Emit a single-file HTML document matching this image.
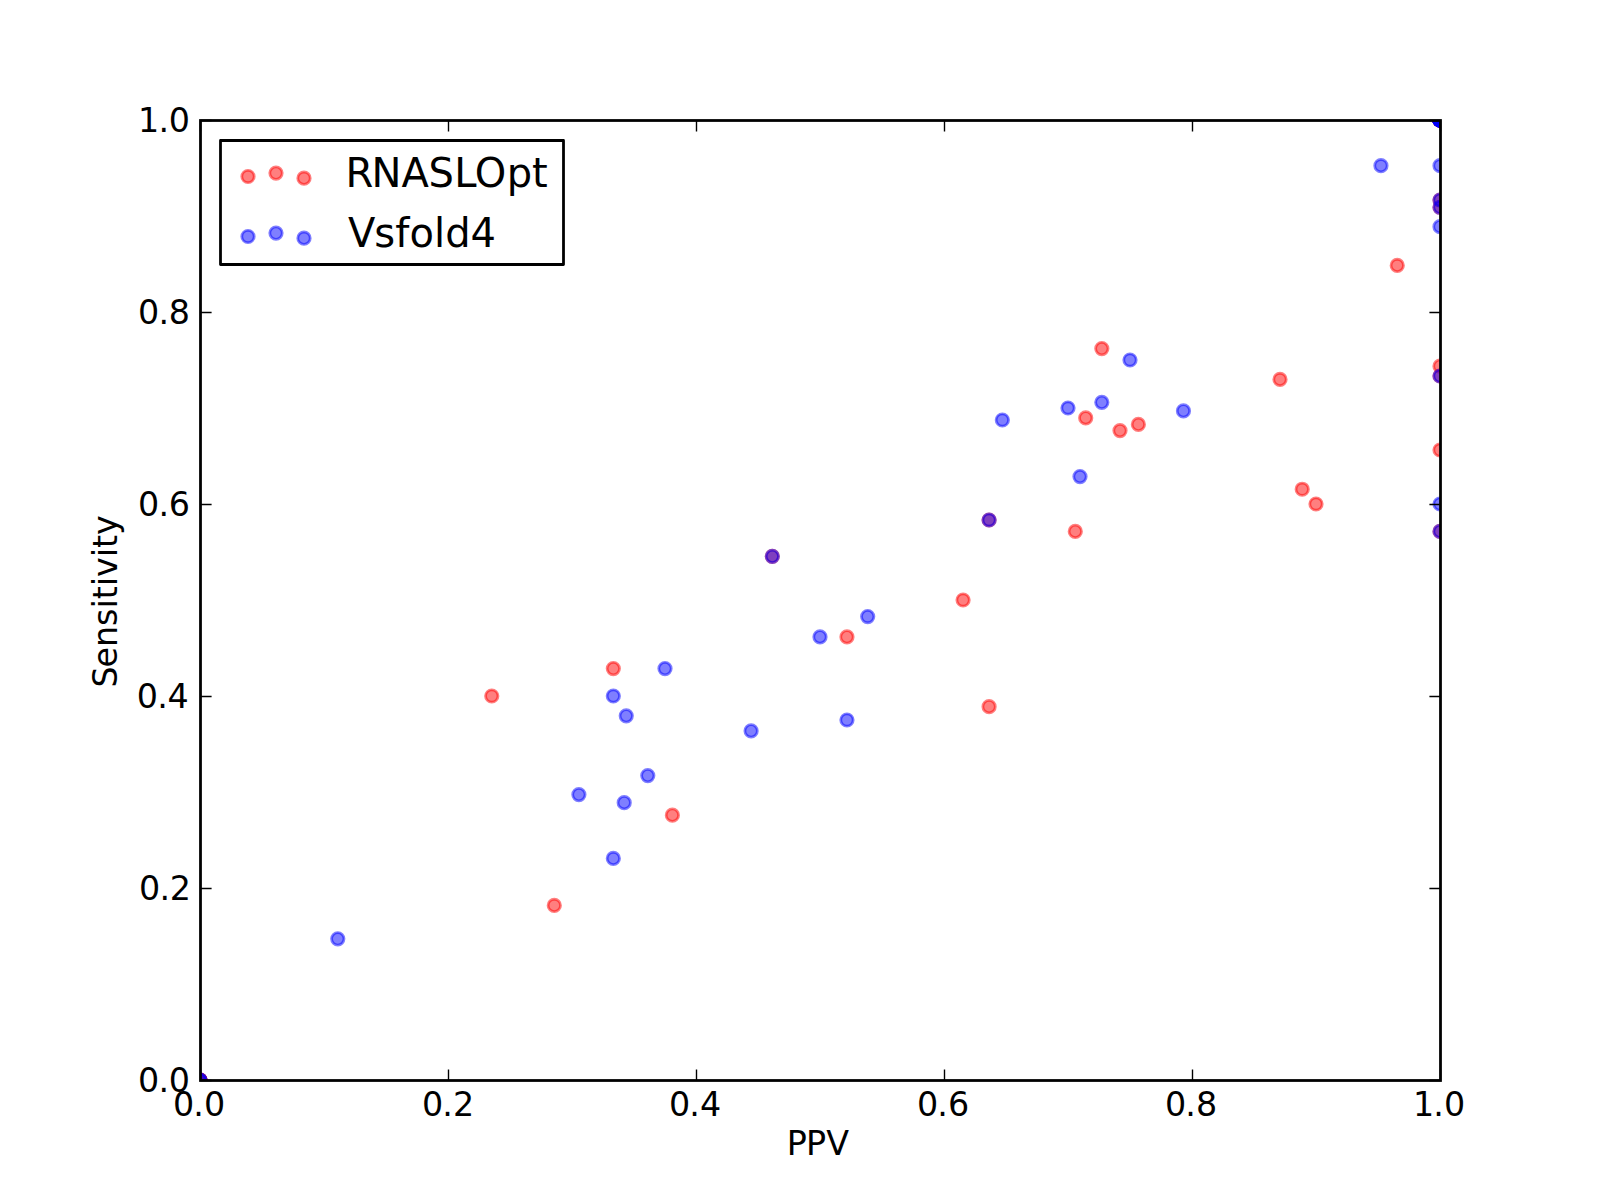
<!DOCTYPE html>
<html><head><meta charset="utf-8"><title>PPV vs Sensitivity</title>
<style>
html,body{margin:0;padding:0;background:#fff;}
body{width:1600px;height:1200px;overflow:hidden;}
svg{display:block;}
text{font-family:"DejaVu Sans","Liberation Sans",sans-serif;fill:#000;}
.tk{font-size:33.33px;}
.lg{font-size:40px;}
</style></head><body>
<svg width="1600" height="1200" viewBox="0 0 1600 1200">
<rect x="0" y="0" width="1600" height="1200" fill="#fff"/>
<defs><clipPath id="ax"><rect x="200" y="120" width="1240" height="960"/></clipPath></defs>
<g clip-path="url(#ax)">
<circle cx="491.76" cy="696.00" r="6.21" fill="#ff0000" fill-opacity="0.5" stroke="#ff0000" stroke-opacity="0.5" stroke-width="2.78"/>
<circle cx="554.29" cy="905.45" r="6.21" fill="#ff0000" fill-opacity="0.5" stroke="#ff0000" stroke-opacity="0.5" stroke-width="2.78"/>
<circle cx="613.33" cy="668.57" r="6.21" fill="#ff0000" fill-opacity="0.5" stroke="#ff0000" stroke-opacity="0.5" stroke-width="2.78"/>
<circle cx="672.38" cy="815.17" r="6.21" fill="#ff0000" fill-opacity="0.5" stroke="#ff0000" stroke-opacity="0.5" stroke-width="2.78"/>
<circle cx="846.96" cy="636.92" r="6.21" fill="#ff0000" fill-opacity="0.5" stroke="#ff0000" stroke-opacity="0.5" stroke-width="2.78"/>
<circle cx="963.08" cy="600.00" r="6.21" fill="#ff0000" fill-opacity="0.5" stroke="#ff0000" stroke-opacity="0.5" stroke-width="2.78"/>
<circle cx="989.09" cy="706.67" r="6.21" fill="#ff0000" fill-opacity="0.5" stroke="#ff0000" stroke-opacity="0.5" stroke-width="2.78"/>
<circle cx="772.31" cy="556.36" r="6.21" fill="#ff0000" fill-opacity="0.5" stroke="#ff0000" stroke-opacity="0.5" stroke-width="2.78"/>
<circle cx="989.09" cy="520.00" r="6.21" fill="#ff0000" fill-opacity="0.5" stroke="#ff0000" stroke-opacity="0.5" stroke-width="2.78"/>
<circle cx="1075.29" cy="531.43" r="6.21" fill="#ff0000" fill-opacity="0.5" stroke="#ff0000" stroke-opacity="0.5" stroke-width="2.78"/>
<circle cx="1085.71" cy="417.93" r="6.21" fill="#ff0000" fill-opacity="0.5" stroke="#ff0000" stroke-opacity="0.5" stroke-width="2.78"/>
<circle cx="1101.82" cy="348.57" r="6.21" fill="#ff0000" fill-opacity="0.5" stroke="#ff0000" stroke-opacity="0.5" stroke-width="2.78"/>
<circle cx="1120.00" cy="430.59" r="6.21" fill="#ff0000" fill-opacity="0.5" stroke="#ff0000" stroke-opacity="0.5" stroke-width="2.78"/>
<circle cx="1138.38" cy="424.39" r="6.21" fill="#ff0000" fill-opacity="0.5" stroke="#ff0000" stroke-opacity="0.5" stroke-width="2.78"/>
<circle cx="1280.00" cy="379.46" r="6.21" fill="#ff0000" fill-opacity="0.5" stroke="#ff0000" stroke-opacity="0.5" stroke-width="2.78"/>
<circle cx="1302.22" cy="489.23" r="6.21" fill="#ff0000" fill-opacity="0.5" stroke="#ff0000" stroke-opacity="0.5" stroke-width="2.78"/>
<circle cx="1316.00" cy="504.00" r="6.21" fill="#ff0000" fill-opacity="0.5" stroke="#ff0000" stroke-opacity="0.5" stroke-width="2.78"/>
<circle cx="1397.24" cy="265.45" r="6.21" fill="#ff0000" fill-opacity="0.5" stroke="#ff0000" stroke-opacity="0.5" stroke-width="2.78"/>
<circle cx="1440.00" cy="366.15" r="6.21" fill="#ff0000" fill-opacity="0.5" stroke="#ff0000" stroke-opacity="0.5" stroke-width="2.78"/>
<circle cx="1440.00" cy="376.00" r="6.21" fill="#ff0000" fill-opacity="0.5" stroke="#ff0000" stroke-opacity="0.5" stroke-width="2.78"/>
<circle cx="1440.00" cy="450.00" r="6.21" fill="#ff0000" fill-opacity="0.5" stroke="#ff0000" stroke-opacity="0.5" stroke-width="2.78"/>
<circle cx="1440.00" cy="531.43" r="6.21" fill="#ff0000" fill-opacity="0.5" stroke="#ff0000" stroke-opacity="0.5" stroke-width="2.78"/>
<circle cx="1440.00" cy="200.00" r="6.21" fill="#ff0000" fill-opacity="0.5" stroke="#ff0000" stroke-opacity="0.5" stroke-width="2.78"/>
<circle cx="1440.00" cy="207.27" r="6.21" fill="#ff0000" fill-opacity="0.5" stroke="#ff0000" stroke-opacity="0.5" stroke-width="2.78"/>
<circle cx="1440.00" cy="120.00" r="6.21" fill="#ff0000" fill-opacity="0.5" stroke="#ff0000" stroke-opacity="0.5" stroke-width="2.78"/>
<circle cx="1440.00" cy="120.00" r="6.21" fill="#ff0000" fill-opacity="0.5" stroke="#ff0000" stroke-opacity="0.5" stroke-width="2.78"/>
<circle cx="1440.00" cy="120.00" r="6.21" fill="#ff0000" fill-opacity="0.5" stroke="#ff0000" stroke-opacity="0.5" stroke-width="2.78"/>
<circle cx="1440.00" cy="120.00" r="6.21" fill="#ff0000" fill-opacity="0.5" stroke="#ff0000" stroke-opacity="0.5" stroke-width="2.78"/>
<circle cx="1440.00" cy="120.00" r="6.21" fill="#ff0000" fill-opacity="0.5" stroke="#ff0000" stroke-opacity="0.5" stroke-width="2.78"/>
<circle cx="1440.00" cy="120.00" r="6.21" fill="#ff0000" fill-opacity="0.5" stroke="#ff0000" stroke-opacity="0.5" stroke-width="2.78"/>
<circle cx="1440.00" cy="120.00" r="6.21" fill="#ff0000" fill-opacity="0.5" stroke="#ff0000" stroke-opacity="0.5" stroke-width="2.78"/>
<circle cx="1440.00" cy="120.00" r="6.21" fill="#ff0000" fill-opacity="0.5" stroke="#ff0000" stroke-opacity="0.5" stroke-width="2.78"/>
<circle cx="1440.00" cy="120.00" r="6.21" fill="#ff0000" fill-opacity="0.5" stroke="#ff0000" stroke-opacity="0.5" stroke-width="2.78"/>
<circle cx="1440.00" cy="120.00" r="6.21" fill="#ff0000" fill-opacity="0.5" stroke="#ff0000" stroke-opacity="0.5" stroke-width="2.78"/>
<circle cx="1440.00" cy="120.00" r="6.21" fill="#ff0000" fill-opacity="0.5" stroke="#ff0000" stroke-opacity="0.5" stroke-width="2.78"/>
<circle cx="1440.00" cy="120.00" r="6.21" fill="#ff0000" fill-opacity="0.5" stroke="#ff0000" stroke-opacity="0.5" stroke-width="2.78"/>
<circle cx="200.00" cy="1080.00" r="6.21" fill="#ff0000" fill-opacity="0.5" stroke="#ff0000" stroke-opacity="0.5" stroke-width="2.78"/>
<circle cx="200.00" cy="1080.00" r="6.21" fill="#ff0000" fill-opacity="0.5" stroke="#ff0000" stroke-opacity="0.5" stroke-width="2.78"/>
<circle cx="200.00" cy="1080.00" r="6.21" fill="#ff0000" fill-opacity="0.5" stroke="#ff0000" stroke-opacity="0.5" stroke-width="2.78"/>
<circle cx="200.00" cy="1080.00" r="6.21" fill="#ff0000" fill-opacity="0.5" stroke="#ff0000" stroke-opacity="0.5" stroke-width="2.78"/>
<circle cx="337.78" cy="938.82" r="6.21" fill="#0000ff" fill-opacity="0.5" stroke="#0000ff" stroke-opacity="0.5" stroke-width="2.78"/>
<circle cx="578.89" cy="794.59" r="6.21" fill="#0000ff" fill-opacity="0.5" stroke="#0000ff" stroke-opacity="0.5" stroke-width="2.78"/>
<circle cx="613.33" cy="858.46" r="6.21" fill="#0000ff" fill-opacity="0.5" stroke="#0000ff" stroke-opacity="0.5" stroke-width="2.78"/>
<circle cx="624.21" cy="802.67" r="6.21" fill="#0000ff" fill-opacity="0.5" stroke="#0000ff" stroke-opacity="0.5" stroke-width="2.78"/>
<circle cx="626.25" cy="715.86" r="6.21" fill="#0000ff" fill-opacity="0.5" stroke="#0000ff" stroke-opacity="0.5" stroke-width="2.78"/>
<circle cx="613.33" cy="696.00" r="6.21" fill="#0000ff" fill-opacity="0.5" stroke="#0000ff" stroke-opacity="0.5" stroke-width="2.78"/>
<circle cx="647.78" cy="775.61" r="6.21" fill="#0000ff" fill-opacity="0.5" stroke="#0000ff" stroke-opacity="0.5" stroke-width="2.78"/>
<circle cx="665.00" cy="668.57" r="6.21" fill="#0000ff" fill-opacity="0.5" stroke="#0000ff" stroke-opacity="0.5" stroke-width="2.78"/>
<circle cx="751.11" cy="730.91" r="6.21" fill="#0000ff" fill-opacity="0.5" stroke="#0000ff" stroke-opacity="0.5" stroke-width="2.78"/>
<circle cx="772.31" cy="556.36" r="6.21" fill="#0000ff" fill-opacity="0.5" stroke="#0000ff" stroke-opacity="0.5" stroke-width="2.78"/>
<circle cx="820.00" cy="636.92" r="6.21" fill="#0000ff" fill-opacity="0.5" stroke="#0000ff" stroke-opacity="0.5" stroke-width="2.78"/>
<circle cx="846.96" cy="720.00" r="6.21" fill="#0000ff" fill-opacity="0.5" stroke="#0000ff" stroke-opacity="0.5" stroke-width="2.78"/>
<circle cx="867.69" cy="616.55" r="6.21" fill="#0000ff" fill-opacity="0.5" stroke="#0000ff" stroke-opacity="0.5" stroke-width="2.78"/>
<circle cx="989.09" cy="520.00" r="6.21" fill="#0000ff" fill-opacity="0.5" stroke="#0000ff" stroke-opacity="0.5" stroke-width="2.78"/>
<circle cx="1002.35" cy="420.00" r="6.21" fill="#0000ff" fill-opacity="0.5" stroke="#0000ff" stroke-opacity="0.5" stroke-width="2.78"/>
<circle cx="1068.00" cy="408.00" r="6.21" fill="#0000ff" fill-opacity="0.5" stroke="#0000ff" stroke-opacity="0.5" stroke-width="2.78"/>
<circle cx="1080.00" cy="476.57" r="6.21" fill="#0000ff" fill-opacity="0.5" stroke="#0000ff" stroke-opacity="0.5" stroke-width="2.78"/>
<circle cx="1101.82" cy="402.35" r="6.21" fill="#0000ff" fill-opacity="0.5" stroke="#0000ff" stroke-opacity="0.5" stroke-width="2.78"/>
<circle cx="1130.00" cy="360.00" r="6.21" fill="#0000ff" fill-opacity="0.5" stroke="#0000ff" stroke-opacity="0.5" stroke-width="2.78"/>
<circle cx="1183.45" cy="410.91" r="6.21" fill="#0000ff" fill-opacity="0.5" stroke="#0000ff" stroke-opacity="0.5" stroke-width="2.78"/>
<circle cx="1380.95" cy="165.71" r="6.21" fill="#0000ff" fill-opacity="0.5" stroke="#0000ff" stroke-opacity="0.5" stroke-width="2.78"/>
<circle cx="1440.00" cy="165.71" r="6.21" fill="#0000ff" fill-opacity="0.5" stroke="#0000ff" stroke-opacity="0.5" stroke-width="2.78"/>
<circle cx="1440.00" cy="200.00" r="6.21" fill="#0000ff" fill-opacity="0.5" stroke="#0000ff" stroke-opacity="0.5" stroke-width="2.78"/>
<circle cx="1440.00" cy="207.27" r="6.21" fill="#0000ff" fill-opacity="0.5" stroke="#0000ff" stroke-opacity="0.5" stroke-width="2.78"/>
<circle cx="1440.00" cy="226.67" r="6.21" fill="#0000ff" fill-opacity="0.5" stroke="#0000ff" stroke-opacity="0.5" stroke-width="2.78"/>
<circle cx="1440.00" cy="376.00" r="6.21" fill="#0000ff" fill-opacity="0.5" stroke="#0000ff" stroke-opacity="0.5" stroke-width="2.78"/>
<circle cx="1440.00" cy="504.00" r="6.21" fill="#0000ff" fill-opacity="0.5" stroke="#0000ff" stroke-opacity="0.5" stroke-width="2.78"/>
<circle cx="1440.00" cy="531.43" r="6.21" fill="#0000ff" fill-opacity="0.5" stroke="#0000ff" stroke-opacity="0.5" stroke-width="2.78"/>
<circle cx="1440.00" cy="120.00" r="6.21" fill="#0000ff" fill-opacity="0.5" stroke="#0000ff" stroke-opacity="0.5" stroke-width="2.78"/>
<circle cx="1440.00" cy="120.00" r="6.21" fill="#0000ff" fill-opacity="0.5" stroke="#0000ff" stroke-opacity="0.5" stroke-width="2.78"/>
<circle cx="1440.00" cy="120.00" r="6.21" fill="#0000ff" fill-opacity="0.5" stroke="#0000ff" stroke-opacity="0.5" stroke-width="2.78"/>
<circle cx="1440.00" cy="120.00" r="6.21" fill="#0000ff" fill-opacity="0.5" stroke="#0000ff" stroke-opacity="0.5" stroke-width="2.78"/>
<circle cx="1440.00" cy="120.00" r="6.21" fill="#0000ff" fill-opacity="0.5" stroke="#0000ff" stroke-opacity="0.5" stroke-width="2.78"/>
<circle cx="1440.00" cy="120.00" r="6.21" fill="#0000ff" fill-opacity="0.5" stroke="#0000ff" stroke-opacity="0.5" stroke-width="2.78"/>
<circle cx="1440.00" cy="120.00" r="6.21" fill="#0000ff" fill-opacity="0.5" stroke="#0000ff" stroke-opacity="0.5" stroke-width="2.78"/>
<circle cx="1440.00" cy="120.00" r="6.21" fill="#0000ff" fill-opacity="0.5" stroke="#0000ff" stroke-opacity="0.5" stroke-width="2.78"/>
<circle cx="1440.00" cy="120.00" r="6.21" fill="#0000ff" fill-opacity="0.5" stroke="#0000ff" stroke-opacity="0.5" stroke-width="2.78"/>
<circle cx="1440.00" cy="120.00" r="6.21" fill="#0000ff" fill-opacity="0.5" stroke="#0000ff" stroke-opacity="0.5" stroke-width="2.78"/>
<circle cx="1440.00" cy="120.00" r="6.21" fill="#0000ff" fill-opacity="0.5" stroke="#0000ff" stroke-opacity="0.5" stroke-width="2.78"/>
<circle cx="1440.00" cy="120.00" r="6.21" fill="#0000ff" fill-opacity="0.5" stroke="#0000ff" stroke-opacity="0.5" stroke-width="2.78"/>
<circle cx="1440.00" cy="120.00" r="6.21" fill="#0000ff" fill-opacity="0.5" stroke="#0000ff" stroke-opacity="0.5" stroke-width="2.78"/>
<circle cx="1440.00" cy="120.00" r="6.21" fill="#0000ff" fill-opacity="0.5" stroke="#0000ff" stroke-opacity="0.5" stroke-width="2.78"/>
<circle cx="200.00" cy="1080.00" r="6.21" fill="#0000ff" fill-opacity="0.5" stroke="#0000ff" stroke-opacity="0.5" stroke-width="2.78"/>
<circle cx="200.00" cy="1080.00" r="6.21" fill="#0000ff" fill-opacity="0.5" stroke="#0000ff" stroke-opacity="0.5" stroke-width="2.78"/>
</g>
<g stroke="#000" stroke-width="1.39" fill="none">
<path d="M200.5 1080.5 V1069.4 M200.5 120.5 V131.6 M200.5 1080.5 H211.6 M1440.5 1080.5 H1429.4"/>
<path d="M448.5 1080.5 V1069.4 M448.5 120.5 V131.6 M200.5 888.5 H211.6 M1440.5 888.5 H1429.4"/>
<path d="M696.5 1080.5 V1069.4 M696.5 120.5 V131.6 M200.5 696.5 H211.6 M1440.5 696.5 H1429.4"/>
<path d="M944.5 1080.5 V1069.4 M944.5 120.5 V131.6 M200.5 504.5 H211.6 M1440.5 504.5 H1429.4"/>
<path d="M1192.5 1080.5 V1069.4 M1192.5 120.5 V131.6 M200.5 312.5 H211.6 M1440.5 312.5 H1429.4"/>
<path d="M1440.5 1080.5 V1069.4 M1440.5 120.5 V131.6 M200.5 120.5 H211.6 M1440.5 120.5 H1429.4"/>
</g>
<rect x="200.5" y="120.5" width="1240" height="960" fill="none" stroke="#000" stroke-width="2.78"/>
<text class="tk" x="173.1 193.3 204.1" y="1115.5">0.0</text>
<text class="tk" x="138.0 158.5 168.8" y="1092.2">0.0</text>
<text class="tk" x="422.1 442.3 453.1" y="1115.5">0.2</text>
<text class="tk" x="139.0 159.5 169.8" y="900.2">0.2</text>
<text class="tk" x="669.1 689.3 700.1" y="1115.5">0.4</text>
<text class="tk" x="136.8 157.3 167.6" y="708.2">0.4</text>
<text class="tk" x="917.1 937.3 948.1" y="1115.5">0.6</text>
<text class="tk" x="138.0 158.5 168.8" y="516.2">0.6</text>
<text class="tk" x="1165.1 1185.3 1196.1" y="1115.5">0.8</text>
<text class="tk" x="138.0 158.5 168.8" y="324.2">0.8</text>
<text class="tk" x="1413.1 1433.3 1444.1" y="1115.5">1.0</text>
<text class="tk" x="138.0 158.5 168.8" y="132.2">1.0</text>
<text class="tk" x="786.75 805.95 826.3" y="1155">PPV</text>
<text class="tk" transform="translate(117.1 602.2) rotate(-90)" text-anchor="middle" dx="0.8 -1.1">Sensitivity</text>
<rect x="220.5" y="140.5" width="343" height="124" fill="#fff" stroke="#000" stroke-width="2.78" stroke-linejoin="round"/>
<circle cx="248.00" cy="176.50" r="6.21" fill="#ff0000" fill-opacity="0.5" stroke="#ff0000" stroke-opacity="0.5" stroke-width="2.78"/>
<circle cx="276.00" cy="173.10" r="6.21" fill="#ff0000" fill-opacity="0.5" stroke="#ff0000" stroke-opacity="0.5" stroke-width="2.78"/>
<circle cx="304.00" cy="178.20" r="6.21" fill="#ff0000" fill-opacity="0.5" stroke="#ff0000" stroke-opacity="0.5" stroke-width="2.78"/>
<circle cx="248.00" cy="236.50" r="6.21" fill="#0000ff" fill-opacity="0.5" stroke="#0000ff" stroke-opacity="0.5" stroke-width="2.78"/>
<circle cx="276.00" cy="233.10" r="6.21" fill="#0000ff" fill-opacity="0.5" stroke="#0000ff" stroke-opacity="0.5" stroke-width="2.78"/>
<circle cx="304.00" cy="238.20" r="6.21" fill="#0000ff" fill-opacity="0.5" stroke="#0000ff" stroke-opacity="0.5" stroke-width="2.78"/>
<text class="lg" x="344.8" y="187" dx="0.7 -1.7 -0.1 -0.4 0.5 -0.3 0.3 0.1">RNASLOpt</text>
<text class="lg" x="349" y="247" dx="-1.1 -1.1 0.2 0.3 0 0 -0.1">Vsfold4</text>
</svg></body></html>
